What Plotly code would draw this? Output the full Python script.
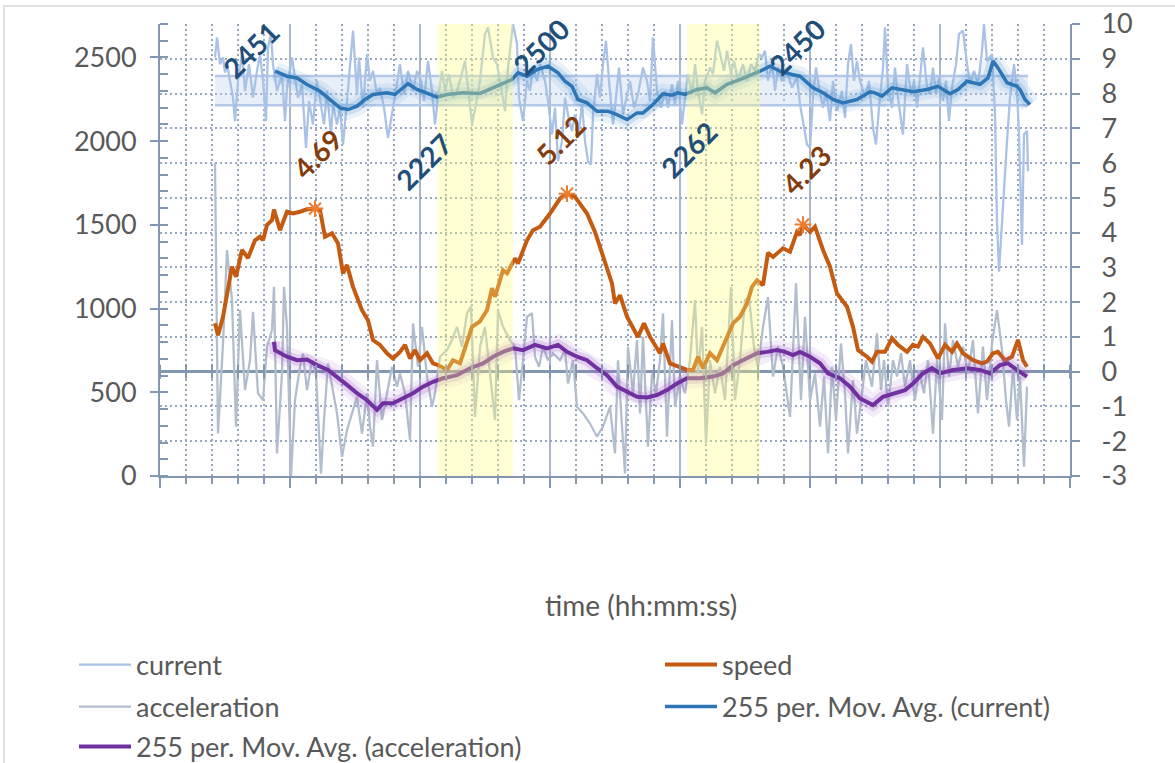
import numpy as np
import plotly.graph_objects as go

# ---------------- data (time axis in s, no labels shown) ----------------
current_t = [55,57,60,63,65,67,70,73,75,78,82,85,89,93,97,100,103,106,108,111,
             113,117,122,125,127,132,135,138,142,146,149,153,157,161,164,167,171,173,177,180,
             183,187,190,193,197,199,203,207,210,213,217,220,224,228,233,237,240,244,248,253,
             257,261,264,268,272,275,278,282,285,289,293,297,300,305,308,312,316,320,
             325,328,333,337,340,345,348,352,353,357,359,363,367,370,373,377,380,385,388,392,
             395,398,402,405,408,412,415,418,422,425,428,431,433,437,440,443,446,449,453,456,
             459,463,467,470,474,478,483,487,490,493,497,501,505,508,512,515,518,522,525,528,
             532,535,538,542,545,550,553,557,561,564,567,571,574,578,583,587,591,595,599,
             602,605,608,612,615,618,622,627,632,637,640,643,647,650,653,656,659,663,666,670,
             673,677,682,685,688,691,694,697,700,705,709,713,716,719,723,725,728,732,735,738,
             743,747,751,754,757,760,763,767,770,773,776,779,783,786,789,792,796,799,803,807,
             810,814,818,822,824,827,832,835,837,839,843,847,850,854,857,859,862,864,867,868]
current = [2500,2620,2460,2500,2410,2460,2360,2260,2120,2360,2520,2300,2460,2260,2420,2520,2360,2120,2560,2640,
           2460,2300,2400,2120,2320,2500,2380,2260,2340,1960,2240,2100,2360,2200,2100,2300,2040,2220,2100,2200,
           1980,2240,2440,2660,2280,2500,2200,2520,2360,2420,2280,2320,2200,2020,2200,2360,2460,2280,2420,2300,
           2420,2360,2240,2480,2300,2100,2260,2420,2300,2400,2260,2300,2360,2480,2320,2100,2220,2360,
           2640,2680,2500,2460,2360,2180,2440,2660,2700,2580,2260,2120,2360,2300,2440,2360,2460,2360,2240,2040,
           2200,1880,2000,2260,2160,2060,2160,2020,2220,2000,1880,1860,2160,2400,2260,2460,2600,2360,2100,2260,
           2440,2160,2280,2360,2200,2280,2440,2360,2240,2620,2300,2200,2300,2200,2340,2220,2360,2100,2260,2400,
           2280,2460,2300,2160,2360,2440,2400,2600,2500,2420,2540,2400,2480,2360,2460,2360,2460,2420,2520,
           2500,2540,2360,2460,2300,2440,2360,2420,2320,2380,2220,2120,1980,1960,2260,2440,2320,2200,2300,2120,
           2360,2180,2300,2140,2460,2580,2360,2480,2360,2260,2360,2080,1980,2200,2440,2680,2320,2200,2440,2260,
           2040,2460,2280,2360,2200,2380,2560,2320,2280,2440,2280,2380,2240,2360,2120,2320,2460,2640,2660,2460,
           2340,2420,2340,2540,2700,2480,2520,2160,1520,1220,1640,2000,2260,2460,2300,2040,1380,2040,2060,1820]

current_ma_t = [115,127,137,147,160,172,180,188,197,205,213,227,235,248,257,270,277,287,303,320,
                333,343,352,358,367,377,388,398,405,412,418,427,437,448,457,467,477,483,493,503,
                512,518,525,537,547,555,567,580,593,600,610,620,632,640,653,663,673,683,697,710,
                715,722,732,743,753,767,778,790,798,807,820,828,833,838,847,857,860,865,870]
current_ma = [2418,2388,2378,2339,2298,2239,2199,2189,2209,2249,2279,2289,2279,2343,2309,2279,2263,2279,2289,2285,
              2319,2349,2368,2408,2388,2428,2448,2408,2358,2328,2249,2229,2179,2179,2159,2129,2169,2169,2219,2283,
              2275,2289,2279,2309,2319,2289,2339,2368,2398,2418,2448,2418,2398,2388,2319,2289,2249,2229,2249,2295,
              2289,2269,2319,2309,2295,2309,2328,2283,2309,2358,2339,2378,2478,2438,2349,2328,2309,2249,2219]

current_band = [2215, 2390]   # lower / upper reference levels of the current

speed_t = [55,58,63,72,76,82,88,95,100,103,107,112,114,120,127,133,140,147,155,160,
           165,172,178,183,187,193,202,208,213,220,227,233,240,245,250,255,260,267,273,278,
           287,293,300,307,312,320,327,332,335,343,347,355,358,367,373,380,390,400,407,415,
           427,435,443,452,455,460,467,473,478,484,490,500,503,510,518,527,533,538,543,550,
           557,563,573,580,587,592,597,603,608,613,623,630,637,640,643,650,655,663,670,677,
           687,693,698,707,712,717,725,732,738,747,753,758,763,770,778,785,792,797,803,813,
           822,827,833,838,845,852,858,863,867]
speed = [1.39,1.05,1.58,3.02,2.73,3.5,3.27,3.78,3.88,3.78,4.22,4.36,4.66,4.07,4.6,4.55,4.6,4.67,4.69,4.65,
         3.88,3.98,3.69,2.83,3.07,2.44,1.77,1.48,0.91,0.77,0.53,0.38,0.57,0.77,0.38,0.62,0.33,0.53,0.24,0.19,
         0.05,0.33,0.24,0.91,1.29,1.45,1.77,2.4,2.15,2.92,2.83,3.26,3.11,3.78,4.07,4.17,4.55,4.98,5.12,5.03,
         4.55,4.02,3.3,2.54,1.96,2.2,1.58,1.29,1.0,1.39,1.0,0.53,0.81,0.24,0.14,0.05,0.05,0.43,0.1,0.53,
         0.33,0.72,1.39,1.58,1.96,2.44,2.63,2.49,3.42,3.3,3.55,3.45,4.02,3.93,4.23,4.02,4.17,3.5,3.02,2.25,
         1.87,1.29,0.62,0.43,0.29,0.57,0.57,0.96,0.77,0.57,0.77,0.72,1.0,0.81,0.38,0.77,0.57,0.81,0.53,0.33,
         0.24,0.29,0.53,0.57,0.33,0.43,0.91,0.33,0.14]

speed_peak_t = [155, 407, 643]
speed_peak = [4.69, 5.12, 4.23]

accel_t = [55,58,63,67,72,76,80,85,90,93,98,103,107,112,114,117,122,124,127,131,
           135,140,143,147,152,156,161,164,168,173,177,182,187,192,197,202,207,210,213,217,
           222,227,232,237,240,245,250,253,258,262,267,272,275,280,287,292,297,302,307,311,315,
           320,325,335,338,343,350,355,359,363,367,372,375,379,383,388,393,400,405,408,413,
           417,423,430,437,443,450,455,458,462,465,468,473,477,480,483,488,492,496,500,503,
           507,512,515,520,525,530,535,538,542,546,550,555,560,565,571,575,580,585,589,594,598,
           603,608,613,618,623,630,636,641,645,650,655,660,664,668,672,676,681,685,688,693,
           697,702,706,712,717,721,724,728,733,737,741,745,750,755,759,764,768,773,777,782,
           785,789,793,798,803,808,813,818,823,827,832,837,842,846,849,853,857,860,864,867]
accel = [6.0,-1.78,0.81,3.5,2.06,-1.58,1.77,-0.53,0.33,1.72,-0.62,-0.82,0.72,1.2,2.44,-2.35,-0.05,2.44,1.29,-3.0,
         -0.82,0.14,0.53,-0.53,0.33,-0.05,-2.93,-1.39,0.24,-0.62,-1.2,-2.45,-1.68,-1.2,-0.72,-1.78,-0.62,-1.58,-2.16,0.33,
         -1.39,-0.62,0.14,-0.43,-0.05,-0.62,-1.97,1.39,0.14,1.29,-0.14,-1.01,-0.62,0.43,0.62,0.91,1.29,0.72,1.68,1.87,-1.3,
         0.72,1.29,-1.39,1.77,1.29,0.91,0.72,-0.82,0.33,1.58,1.68,0.43,0.14,0.72,0.33,0.53,0.33,0.62,-0.34,0.33,
         -1.01,-1.2,-1.49,-1.87,-1.58,-1.01,-2.35,0.33,-1.58,-2.93,0.72,-0.62,0.91,-1.2,1.0,-2.16,-0.05,-0.62,0.33,1.68,
         -1.87,1.48,-1.01,-0.14,-0.62,0.33,2.06,-0.05,1.29,-2.06,0.33,-0.62,0.14,-0.82,2.44,-0.82,0.33,2.06,2.15,0.72,0.14,
         1.29,2.15,-0.14,0.72,0.14,-1.3,2.54,-0.82,1.58,-0.82,-0.05,-1.58,-0.14,-2.35,0.14,-1.39,0.81,-0.62,-2.35,-0.24,
         -1.78,-0.62,0.33,-0.43,1.1,-0.53,0.33,-1.01,0.33,-0.14,0.53,-0.43,0.33,-0.82,0.05,-0.62,0.33,-1.78,0.33,-1.39,
         1.39,-0.14,0.91,0.14,0.72,-0.05,0.91,-1.2,0.72,-0.82,0.81,1.77,0.62,-0.82,-1.58,0.14,-1.39,-0.14,-2.73,-0.43]

accel_ma_t = [114,115,127,137,147,157,168,177,187,197,207,217,223,233,243,253,263,273,283,297,
              310,323,333,343,353,363,375,387,398,407,417,427,437,447,457,467,477,487,497,507,
              517,527,540,553,563,573,587,597,607,617,625,633,640,650,660,668,680,690,700,713,
              723,733,745,753,763,772,780,793,807,820,830,840,848,857,867]
accel_ma = [0.86,0.62,0.43,0.33,0.35,0.19,0.05,-0.14,-0.38,-0.62,-0.82,-1.1,-0.91,-0.91,-0.77,-0.62,-0.43,-0.29,-0.19,-0.1,
            0.1,0.24,0.43,0.57,0.67,0.62,0.77,0.67,0.77,0.57,0.43,0.33,0.1,-0.1,-0.43,-0.58,-0.72,-0.74,-0.67,-0.53,
            -0.34,-0.19,-0.19,-0.14,-0.05,0.19,0.38,0.53,0.57,0.62,0.57,0.48,0.57,0.43,0.24,-0.05,-0.19,-0.43,-0.77,-0.96,
            -0.72,-0.62,-0.53,-0.34,-0.05,0.1,-0.05,0.05,0.1,0.05,-0.05,0.19,0.24,0.05,-0.14]

current_labels = [2451, 2227, 2500, 2262, 2450]
highlight_start = [278, 527]
highlight_end = [353, 600]
left_ticks = list(range(0, 2501, 500))
right_ticks = list(range(-3, 11))

# ---------------- styling / positions ----------------
FONT = "Lato"
AX = "#8497B0"
TXT = "#595959"
X_MAX, X_MAJOR, X_MINOR = 910, 130, 26
PL, PR, PT, PB = 160, 1070, 24, 476      # plot area in px


def px_x(p):
    return (p - PL) / (PR - PL)


def px_y(p):
    return (PB - p) / (PB - PT)


cur_lbl_pos = [(91, 2542), (263, 1878), (381, 2560), (528, 1950), (637, 2560)]
spd_lbl_pos = [(157, 6.26), (400, 6.66), (646, 5.79)]

fig = go.Figure()

tb = [current_t[0], current_t[-1]]
fig.add_trace(go.Scatter(x=tb, y=[current_band[0]] * 2, mode="lines",
                         line=dict(color="#B4C7E7", width=2.5), showlegend=False, hoverinfo="skip"))
fig.add_trace(go.Scatter(x=tb, y=[current_band[1]] * 2, mode="lines", fill="tonexty",
                         fillcolor="rgba(190,208,238,0.35)",
                         line=dict(color="#B4C7E7", width=2.5), showlegend=False, hoverinfo="skip"))

fig.add_trace(go.Scatter(x=current_t, y=current, mode="lines", name="current",
                         line=dict(color="#A9C2E6", width=2.3), legend="legend"))
for w, op in [(20, 0.12), (11, 0.22)]:
    fig.add_trace(go.Scatter(x=current_ma_t, y=current_ma, mode="lines", opacity=op,
                             line=dict(color="#5B9BD5", width=w), showlegend=False, hoverinfo="skip"))
fig.add_trace(go.Scatter(x=current_ma_t, y=current_ma, mode="lines",
                         name="255 per. Mov. Avg. (current)",
                         line=dict(color="#2E75B6", width=3.5), legend="legend4"))

fig.add_trace(go.Scatter(x=accel_t, y=accel, mode="lines", name="acceleration", yaxis="y2",
                         line=dict(color="#B2BECD", width=2.3), legend="legend3"))
fig.add_trace(go.Scatter(x=speed_t, y=speed, mode="lines", name="speed", yaxis="y2",
                         line=dict(color="#C55A11", width=4), legend="legend2"))
for w, op in [(20, 0.1), (11, 0.2)]:
    fig.add_trace(go.Scatter(x=accel_ma_t, y=accel_ma, mode="lines", yaxis="y2", opacity=op,
                             line=dict(color="#9B59C9", width=w), showlegend=False, hoverinfo="skip"))
fig.add_trace(go.Scatter(x=accel_ma_t, y=accel_ma, mode="lines", yaxis="y2",
                         name="255 per. Mov. Avg. (acceleration)",
                         line=dict(color="#7030A0", width=4), legend="legend5"))
fig.add_trace(go.Scatter(x=speed_peak_t, y=speed_peak, mode="markers", yaxis="y2",
                         marker=dict(symbol="asterisk-open", size=14, color="#ED7D31",
                                     line=dict(color="#ED7D31", width=2)),
                         showlegend=False, hoverinfo="skip"))
zt = np.arange(0, X_MAX + 1, X_MINOR)
fig.add_trace(go.Scatter(x=zt, y=np.zeros(len(zt)), mode="markers", yaxis="y2",
                         marker=dict(symbol="line-ns-open", size=10, color=AX,
                                     line=dict(color=AX, width=2)),
                         showlegend=False, hoverinfo="skip"))

for s, e in zip(highlight_start, highlight_end):
    fig.add_shape(type="rect", xref="x", yref="paper", x0=s, x1=e, y0=0, y1=1,
                  fillcolor="rgba(255,255,120,0.33)", line=dict(width=0), layer="above")

fig.add_shape(type="rect", xref="paper", yref="paper", x0=px_x(4), x1=2,
              y0=-2, y1=px_y(6), line=dict(color="#D9D9D9", width=1.5),
              fillcolor="rgba(0,0,0,0)", layer="below")

for v, (t, y) in zip(current_labels, cur_lbl_pos):
    fig.add_annotation(x=t, y=y, xref="x", yref="y", text=f"<b>{v}</b>", textangle=-45,
                       showarrow=False, font=dict(family=FONT, size=28, color="#1F4E79"))
for v, (t, y) in zip(speed_peak, spd_lbl_pos):
    fig.add_annotation(x=t, y=y, xref="x", yref="y2", text=f"<b>{v:.2f}</b>", textangle=-45,
                       showarrow=False, font=dict(family=FONT, size=28, color="#843C0C"))
fig.add_annotation(x=px_x(641), y=px_y(624), xref="paper", yref="paper",
                   text="time (hh:mm:ss)", showarrow=False,
                   font=dict(family=FONT, size=28, color=TXT))

LEGFONT = dict(family=FONT, size=27, color=TXT)


def leg(xp, yp):
    return dict(orientation="h", x=px_x(xp), y=px_y(yp), xanchor="left", yanchor="middle",
                itemwidth=52, font=LEGFONT, bgcolor="rgba(0,0,0,0)", borderwidth=0)


fig.update_layout(
    width=1175, height=763,
    margin=dict(l=PL, r=1175 - PR, t=PT, b=763 - PB, autoexpand=False),
    paper_bgcolor="white", plot_bgcolor="white",
    font=dict(family=FONT, size=26, color=TXT),
    legend=leg(74, 665), legend2=leg(660, 665),
    legend3=leg(74, 707), legend4=leg(660, 707),
    legend5=leg(74, 747),
    xaxis=dict(range=[0, X_MAX], tick0=0, dtick=X_MAJOR, showticklabels=False,
               showgrid=True, gridcolor="#A9B6CA", gridwidth=2,
               ticks="outside", ticklen=10, tickwidth=2, tickcolor=AX,
               showline=True, linecolor=AX, linewidth=2, zeroline=False,
               minor=dict(dtick=X_MINOR, tick0=0, ticks="outside", ticklen=6, tickwidth=2,
                          tickcolor=AX, showgrid=True, gridcolor="#97A7BF",
                          griddash="2px,3px", gridwidth=1.5)),
    yaxis=dict(range=[0, 2700], tickmode="array", tickvals=left_ticks,
               ticktext=[str(v) for v in left_ticks], showgrid=False, zeroline=False,
               ticks="outside", ticklen=8, tickwidth=2, tickcolor=AX,
               showline=True, linecolor=AX, linewidth=2,
               ticklabelstandoff=8, tickfont=dict(family=FONT, size=27, color=TXT),
               minor=dict(dtick=100, tick0=0, ticks="inside", ticklen=8, tickwidth=1.5,
                          tickcolor=AX)),
    yaxis2=dict(range=[-3, 10], tickmode="array", tickvals=right_ticks,
                ticktext=[str(v) for v in right_ticks], overlaying="y", side="right",
                showgrid=True, gridcolor="#97A7BF", griddash="2px,3px", gridwidth=1.5,
                zeroline=True, zerolinecolor=AX, zerolinewidth=2.5,
                ticks="outside", ticklen=8, tickwidth=2, tickcolor=AX,
                showline=True, linecolor=AX, linewidth=2,
                ticklabelstandoff=16, tickfont=dict(family=FONT, size=27, color=TXT)),
)

fig.write_html("out.html")
